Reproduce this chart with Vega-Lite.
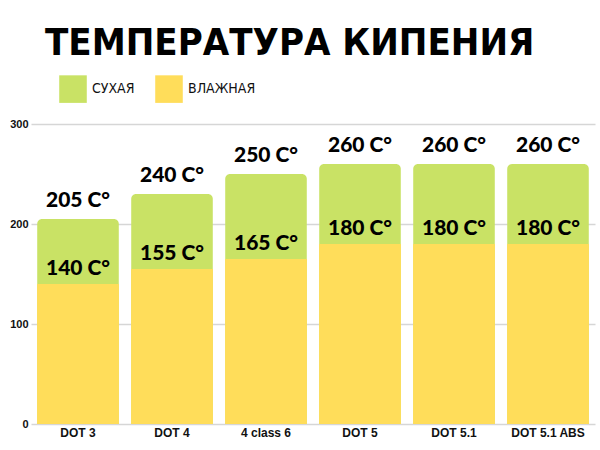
{
  "$schema": "https://vega.github.io/schema/vega-lite/v6.json",
  "autosize": "none",
  "width": 564,
  "height": 300,
  "padding": {"left": 31, "top": 124, "right": 5, "bottom": 26},
  "background": "white",
  "title": {
    "text": "ТЕМПЕРАТУРА КИПЕНИЯ",
    "anchor": "start",
    "frame": "group",
    "dx": 14,
    "offset": -18,
    "baseline": "alphabetic",
    "font": "DejaVu Sans Condensed, DejaVu Sans, sans-serif",
    "fontSize": 38,
    "fontWeight": "bold",
    "color": "#000000"
  },
  "data": {
    "values": [
      {"model": "DOT 3", "dry": 205, "dry_text": "205 C°", "wet": 140, "wet_text": "140 C°"},
      {"model": "DOT 4", "dry": 230, "dry_text": "240 C°", "wet": 155, "wet_text": "155 C°"},
      {"model": "4 class 6", "dry": 250, "dry_text": "250 C°", "wet": 165, "wet_text": "165 C°"},
      {"model": "DOT 5", "dry": 260, "dry_text": "260 C°", "wet": 180, "wet_text": "180 C°"},
      {"model": "DOT 5.1", "dry": 260, "dry_text": "260 C°", "wet": 180, "wet_text": "180 C°"},
      {"model": "DOT 5.1 ABS", "dry": 260, "dry_text": "260 C°", "wet": 180, "wet_text": "180 C°"}
    ]
  },
  "encoding": {
    "x": {
      "field": "model",
      "type": "nominal",
      "sort": null,
      "title": null,
      "scale": {"paddingInner": 0.13, "paddingOuter": 0.065},
      "axis": {
        "labelAngle": 0,
        "labelFont": "Liberation Sans",
        "labelFontWeight": "bold",
        "labelFontSize": 12,
        "labelColor": "#111111",
        "labelPadding": 3,
        "ticks": false,
        "domain": false
      }
    }
  },
  "layer": [
    {
      "mark": {"type": "bar", "cornerRadiusTopLeft": 5, "cornerRadiusTopRight": 5},
      "encoding": {
        "y": {
          "field": "dry",
          "type": "quantitative",
          "title": null,
          "scale": {"domain": [0, 300]},
          "axis": {
            "values": [0, 100, 200, 300],
            "labelFont": "Liberation Sans",
            "labelFontWeight": "bold",
            "labelFontSize": 11,
            "labelColor": "#111111",
            "labelPadding": 3,
            "ticks": false,
            "domain": false,
            "gridColor": "#d6d6d6",
            "gridWidth": 1.5
          }
        },
        "color": {
          "datum": "СУХАЯ",
          "scale": {"domain": ["СУХАЯ", "ВЛАЖНАЯ"], "range": ["#c9e265", "#ffdd5a"]},
          "legend": {
            "title": null,
            "orient": "none",
            "legendX": 28,
            "legendY": -49,
            "direction": "horizontal",
            "symbolType": "square",
            "symbolSize": 760,
            "symbolStrokeWidth": 0,
            "symbolOpacity": 1,
            "labelFont": "DejaVu Sans Condensed, DejaVu Sans, sans-serif",
            "labelFontSize": 14,
            "labelColor": "#111111",
            "labelOffset": 5,
            "columnPadding": 20
          }
        }
      }
    },
    {
      "mark": {"type": "bar"},
      "encoding": {
        "y": {"field": "wet", "type": "quantitative"},
        "color": {"datum": "ВЛАЖНАЯ"}
      }
    },
    {
      "mark": {"type": "text", "baseline": "alphabetic", "dy": -12, "font": "Lato", "fontWeight": 900, "fontSize": 21, "color": "#000000"},
      "encoding": {
        "y": {"field": "dry", "type": "quantitative"},
        "text": {"field": "dry_text"}
      }
    },
    {
      "mark": {"type": "text", "baseline": "alphabetic", "dy": -9, "font": "Lato", "fontWeight": 900, "fontSize": 21, "color": "#000000"},
      "encoding": {
        "y": {"field": "wet", "type": "quantitative"},
        "text": {"field": "wet_text"}
      }
    }
  ],
  "config": {
    "view": {"stroke": null}
  }
}
